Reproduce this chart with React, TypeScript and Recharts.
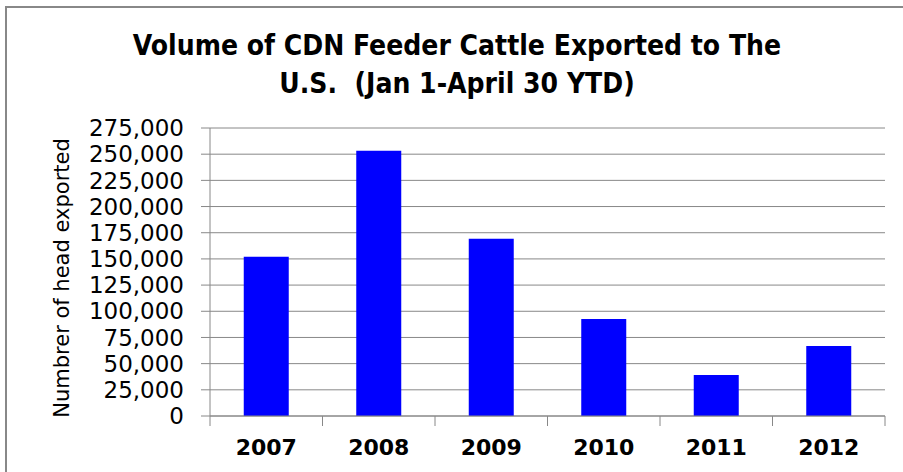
import { BarChart, Bar, CartesianGrid, XAxis, YAxis } from 'recharts';

const years = ['2007', '2008', '2009', '2010', '2011', '2012'];
const headExported = [152000, 253300, 169200, 92700, 39200, 66900];
const yTicks = [0, 25000, 50000, 75000, 100000, 125000, 150000, 175000, 200000, 225000, 250000, 275000];

const data = years.map((year, i) => ({ year, head: headExported[i] }));

const W = 903;
const H = 472;
const PLOT_LEFT = 210;
const PLOT_RIGHT = 885;
const PLOT_BOTTOM = 416;
const BAND = (PLOT_RIGHT - PLOT_LEFT) / years.length;

const fmt = (v: number) => v.toLocaleString('en-US');

const XTick = (props: any) => {
  const { x, payload, index } = props;
  const left = x - BAND / 2;
  const right = x + BAND / 2;
  return (
    <g>
      <line x1={left} y1={PLOT_BOTTOM} x2={left} y2={PLOT_BOTTOM + 10} stroke="#888" />
      {index === years.length - 1 && (
        <line x1={right} y1={PLOT_BOTTOM} x2={right} y2={PLOT_BOTTOM + 10} stroke="#888" />
      )}
      <text x={x} y={455} textAnchor="middle" fontFamily="DejaVu Sans" fontWeight="bold" fontSize={22} fill="#000">
        {payload.value}
      </text>
    </g>
  );
};

export default function App() {
  return (
    <div style={{ position: 'absolute', left: 0, top: 0, width: W, height: H, background: '#fff', overflow: 'hidden' }}>
      <div style={{ position: 'absolute', left: 5, top: 6, width: W, height: H, borderLeft: '2px solid #888', borderTop: '2px solid #888' }} />
      <div
        style={{
          position: 'absolute',
          left: 0,
          top: 27,
          width: 914,
          textAlign: 'center',
          fontFamily: 'DejaVu Sans Condensed, DejaVu Sans',
          fontWeight: 'bold',
          fontSize: 28,
          lineHeight: '38px',
          color: '#000',
        }}
      >
        Volume of CDN Feeder Cattle Exported to The
        <br />
        U.S.&nbsp; (Jan 1-April 30 YTD)
      </div>
      <BarChart
        width={W}
        height={H}
        data={data}
        margin={{ top: 128, right: W - PLOT_RIGHT, bottom: 0, left: 0 }}
        barCategoryGap="30%"
        style={{ position: 'absolute', left: 0, top: 0 }}
      >
        <CartesianGrid vertical={false} stroke="#888" strokeWidth={1} />
        <XAxis
          dataKey="year"
          height={H - PLOT_BOTTOM}
          axisLine={{ stroke: '#888' }}
          tickLine={false}
          tick={<XTick />}
          interval={0}
        />
        <YAxis
          width={PLOT_LEFT}
          domain={[0, 275000]}
          ticks={yTicks}
          interval={0}
          tickFormatter={fmt}
          axisLine={{ stroke: '#888' }}
          tickLine={{ stroke: '#888' }}
          tickSize={9}
          tickMargin={17}
          tick={{ fill: '#000', fontFamily: 'DejaVu Sans', fontSize: 23 }}
          label={{
            value: 'Numbrer of head exported',
            angle: -90,
            position: 'center',
            dx: -43,
            dy: 6,
            fill: '#000',
            fontFamily: 'DejaVu Sans',
            fontSize: 21,
          }}
        />
        <Bar dataKey="head" fill="#0000FF" isAnimationActive={false} />
      </BarChart>
    </div>
  );
}
